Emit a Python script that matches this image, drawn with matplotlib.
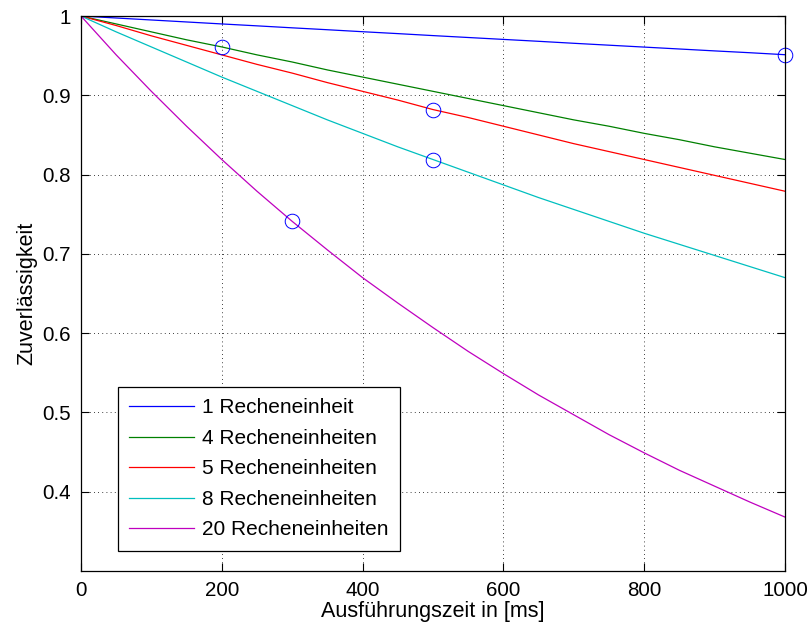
import matplotlib.pyplot as plt
import numpy as np

plt.rcParams['font.family'] = ['Liberation Sans', 'DejaVu Sans']

# Ausfuehrungszeit in ms, values every 50 ms
t = [0, 50, 100, 150, 200, 250, 300, 350, 400, 450, 500,
     550, 600, 650, 700, 750, 800, 850, 900, 950, 1000]
r1 = [1.0, .9975, .995, .9925, .990, .9876, .9851, .9827, .9802, .9778, .9753,
      .9729, .9705, .9681, .9656, .9632, .9608, .9584, .9560, .9537, .9512]
r4 = [1.0, .990, .980, .970, .961, .951, .942, .932, .923, .914, .905,
      .896, .887, .878, .869, .861, .852, .844, .835, .827, .819]
r5 = [1.0, .988, .975, .963, .951, .939, .928, .916, .905, .894, .882,
      .872, .861, .850, .839, .829, .819, .809, .799, .789, .779]
r8 = [1.0, .980, .961, .942, .923, .905, .887, .869, .852, .835, .819,
      .803, .787, .771, .756, .741, .726, .712, .698, .684, .670]
r20 = [1.0, .951, .905, .861, .819, .779, .741, .705, .670, .638, .607,
       .577, .549, .522, .497, .472, .449, .427, .407, .387, .368]

labels = ['1 Recheneinheit', '4 Recheneinheiten', '5 Recheneinheiten',
          '8 Recheneinheiten', '20 Recheneinheiten']
colors = [(0, 0, 1), (0, 0.5, 0), (1, 0, 0), (0, 0.75, 0.75), (0.75, 0, 0.75)]

# marked points
mark_t = [200, 500, 500, 300, 1000]
mark_r = [.961, .882, .819, .741, .951]

fig = plt.figure(figsize=(8.08, 6.28), dpi=100)
ax = fig.add_axes([0.1002, 0.0908, 0.8713, 0.8837])

for series, lab, c in zip([r1, r4, r5, r8, r20], labels, colors):
    ax.plot(t, series, color=c, linewidth=0.9, label=lab)

ax.plot(mark_t, mark_r, linestyle='none', marker='o', markersize=10.5,
        markerfacecolor='none', markeredgecolor=(0, 0, 1), markeredgewidth=0.7,
        clip_on=False)

ax.set_xlim(0, 1000)
ax.set_ylim(0.3, 1.0)
ax.set_xticks([0, 200, 400, 600, 800, 1000])
ax.set_yticks([0.4, 0.5, 0.6, 0.7, 0.8, 0.9, 1.0])
ax.set_yticklabels(['0.4', '0.5', '0.6', '0.7', '0.8', '0.9', '1'])
ax.tick_params(direction='in', top=True, right=True, length=6, width=0.8,
               labelsize=14.8)
ax.tick_params(axis='x', pad=7)
ax.tick_params(axis='y', pad=7)
ax.grid(True, linestyle=(0, (1, 4)), color='black', linewidth=0.6)
for s in ax.spines.values():
    s.set_linewidth(0.9)

ax.set_xlabel('Ausführungszeit in [ms]', fontsize=15.5, labelpad=1)
ax.set_ylabel('Zuverlässigkeit', fontsize=15.5, labelpad=4)

leg = ax.legend(loc='upper left', bbox_to_anchor=(118 / 808, 1 - 387 / 628),
                bbox_transform=fig.transFigure, fontsize=15, borderaxespad=0,
                fancybox=False, framealpha=1, edgecolor='black',
                handlelength=3.1, handletextpad=0.4, labelspacing=0.55,
                borderpad=0.55)
leg.get_frame().set_linewidth(0.9)

fig.savefig('out.png', dpi=100)
